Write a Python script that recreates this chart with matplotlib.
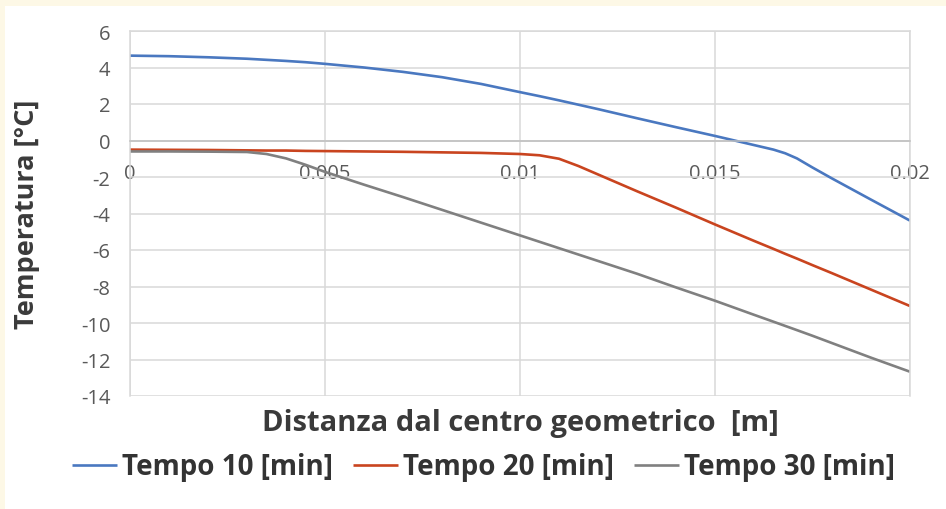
import numpy as np
import matplotlib
matplotlib.use("Agg")
import matplotlib.pyplot as plt
from matplotlib.patches import Rectangle

# distance from geometric centre [m]
dist = [0, 0.001, 0.002, 0.003, 0.0035, 0.004, 0.0045, 0.005, 0.006, 0.007,
        0.008, 0.009, 0.010, 0.0105, 0.011, 0.0115, 0.012, 0.0125, 0.013,
        0.014, 0.015, 0.016, 0.0165, 0.0168, 0.0171, 0.0175, 0.018, 0.019,
        0.020]

# temperatures [°C]
t10 = [4.65, 4.62, 4.56, 4.48, 4.42, 4.36, 4.29, 4.20, 4.00, 3.76,
       3.47, 3.10, 2.65, 2.43, 2.20, 1.96, 1.72, 1.47, 1.22,
       0.73, 0.25, -0.25, -0.50, -0.70, -0.98, -1.48, -2.08, -3.24,
       -4.39]
t20 = [-0.50, -0.51, -0.52, -0.54, -0.55, -0.55, -0.57, -0.58, -0.60, -0.62,
       -0.65, -0.68, -0.74, -0.81, -1.00, -1.40, -1.86, -2.32, -2.78,
       -3.68, -4.60, -5.50, -5.94, -6.21, -6.47, -6.83, -7.27, -8.17,
       -9.07]
t30 = [-0.60, -0.60, -0.61, -0.63, -0.74, -0.98, -1.33, -1.72, -2.42, -3.10,
       -3.80, -4.50, -5.20, -5.55, -5.90, -6.25, -6.60, -6.95, -7.30,
       -8.05, -8.78, -9.55, -9.93, -10.16, -10.39, -10.70, -11.10, -11.90,
       -12.67]

labels = ["Tempo 10 [min]", "Tempo 20 [min]", "Tempo 30 [min]"]
colors = ["#4A78C0", "#C9441F", "#808080"]

xticks = [0, 0.005, 0.01, 0.015, 0.02]
xticklabels = ["0", "0.005", "0.01", "0.015", "0.02"]
yticks = list(range(-14, 7, 2))

plt.rcParams['font.family'] = ['Open Sans', 'DejaVu Sans']
plt.rcParams['axes.unicode_minus'] = False

fig = plt.figure(figsize=(9.46, 5.10), dpi=100, facecolor="#FDF8E6")
fig.patches.append(Rectangle((5 / 946, 0), 1, 1 - 7 / 510, facecolor="white",
                             edgecolor="none", transform=fig.transFigure, zorder=-1))

ax = fig.add_axes([130 / 946, 1 - 397 / 510, 780 / 946, 365 / 510])
ax.set_facecolor("white")

for y, lab, c in zip([t10, t20, t30], labels, colors):
    ax.plot(dist, y, color=c, lw=1.9, label=lab, solid_capstyle="butt",
            solid_joinstyle="round")

ax.set_xlim(0, 0.02)
ax.set_ylim(-14, 6)
ax.set_xticks(xticks)
ax.set_xticklabels(xticklabels)
ax.set_yticks(yticks)
ax.grid(True, color="#D9D9D9", lw=1.1)
ax.set_axisbelow(True)

for s in ["top", "right", "left"]:
    ax.spines[s].set_color("#D9D9D9")
    ax.spines[s].set_linewidth(1.1)
ax.spines["bottom"].set_position(("data", 0))
ax.spines["bottom"].set_color("#BFBFBF")
ax.spines["bottom"].set_linewidth(1.1)

ax.tick_params(axis="x", length=0, pad=16, labelsize=14.5, labelcolor="#595959")
ax.tick_params(axis="y", length=0, pad=14, labelsize=14.5, labelcolor="#595959")

ax.set_xlabel("Distanza dal centro geometrico  [m]", fontsize=21,
              fontweight="bold", color="#3A3A3A")
ax.xaxis.set_label_coords(0.5, -(424 - 397) / 365)
ax.xaxis.label.set_va("center")
ax.set_ylabel("Temperatura [°C]", fontsize=19.5, fontweight="bold", color="#3A3A3A")
ax.yaxis.set_label_coords(-(130 - 27) / 780, 0.5)
ax.yaxis.label.set_va("center")

fig.legend(loc="center", bbox_to_anchor=(483 / 946, 1 - 468 / 510), ncol=3,
           frameon=False, prop={"size": 20, "weight": "bold"},
           handlelength=1.62, handletextpad=0.18, columnspacing=0.72,
           labelcolor="#333333")

fig.savefig("out.png", dpi=100, facecolor=fig.get_facecolor())
